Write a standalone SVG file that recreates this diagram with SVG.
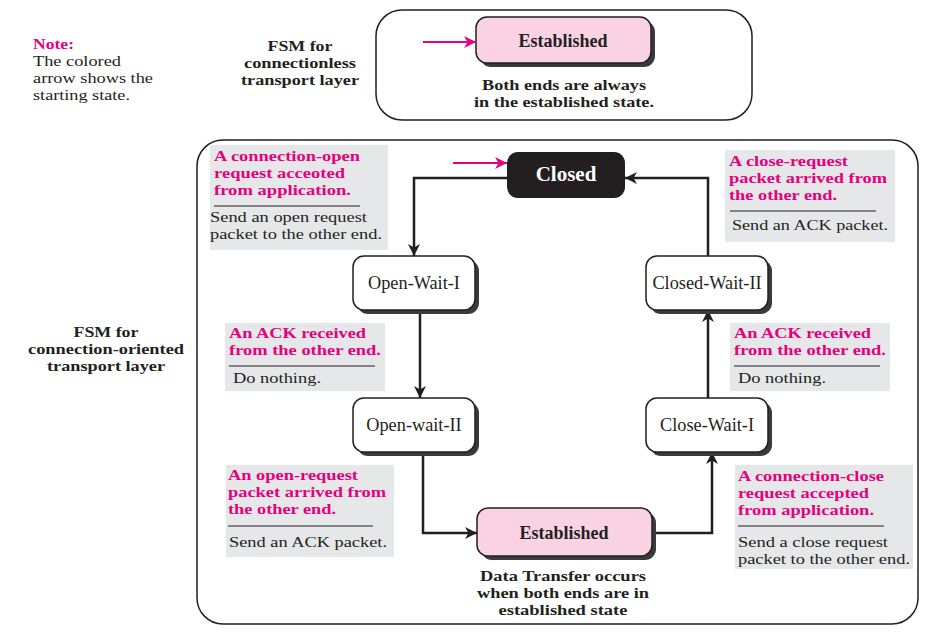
<svg xmlns="http://www.w3.org/2000/svg" width="932" height="640" viewBox="0 0 932 640">
<defs>
<marker id="ah" markerUnits="userSpaceOnUse" markerWidth="13" markerHeight="12" refX="12" refY="6" orient="auto">
<path d="M0,0 L12,6 L0,12 L3.5,6 z" fill="#231f20"/>
</marker>
<marker id="ahm" markerUnits="userSpaceOnUse" markerWidth="13" markerHeight="12" refX="12" refY="6" orient="auto">
<path d="M0,0 L12,6 L0,12 L3.5,6 z" fill="#e6007e"/>
</marker>
</defs>
<style>
text{font-family:"Liberation Serif","Times New Roman",serif;fill:#231f20}
.b{font-weight:bold}
.m{fill:#e6007e;font-weight:bold;font-size:15px}
.r{font-size:15px}
.t{font-weight:bold;font-size:15px;text-anchor:middle}
.frame{fill:#fff;stroke:#231f20;stroke-width:1.5}
.gray{fill:#e6e7e8}
.sep{stroke:#231f20;stroke-width:1.2}
.shadow{fill:#3a3a3a}
.node{fill:#fff;stroke:#231f20;stroke-width:1.5}
.pink{fill:#f9d3e4;stroke:#231f20;stroke-width:1.5}
.nl{font-size:18.3px;text-anchor:middle}
.conn{fill:none;stroke:#231f20;stroke-width:2.5;marker-end:url(#ah)}
.start{fill:none;stroke:#e6007e;stroke-width:2.2;marker-end:url(#ahm)}
</style>

<!-- Note -->
<g id="note">
<text x="33" y="49" class="m" textLength="41" lengthAdjust="spacingAndGlyphs">Note:</text>
<text x="33" y="66" class="r" textLength="88" lengthAdjust="spacingAndGlyphs">The colored</text>
<text x="33" y="83" class="r" textLength="120" lengthAdjust="spacingAndGlyphs">arrow shows the</text>
<text x="33" y="100" class="r" textLength="97" lengthAdjust="spacingAndGlyphs">starting state.</text>
</g>

<!-- Titles -->
<g id="title-connectionless">
<text x="300" y="51" class="t" textLength="65" lengthAdjust="spacingAndGlyphs">FSM for</text>
<text x="300" y="68" class="t" textLength="112" lengthAdjust="spacingAndGlyphs">connectionless</text>
<text x="300" y="85" class="t" textLength="118" lengthAdjust="spacingAndGlyphs">transport layer</text>
</g>
<g id="title-connection-oriented">
<text x="106" y="337" class="t" textLength="65" lengthAdjust="spacingAndGlyphs">FSM for</text>
<text x="106" y="354" class="t" textLength="156" lengthAdjust="spacingAndGlyphs">connection-oriented</text>
<text x="106" y="371" class="t" textLength="118" lengthAdjust="spacingAndGlyphs">transport layer</text>
</g>

<!-- Frames -->
<g id="frame-connectionless">
<rect x="376" y="10" width="376" height="110" rx="26" class="frame"/>
</g>
<g id="frame-connection-oriented">
<rect x="197" y="140" width="721" height="484" rx="26" class="frame"/>
</g>

<!-- Connectionless Established -->
<g id="node-established-top">
<rect x="480" y="21" width="175" height="46" rx="11" class="shadow"/>
<rect x="476" y="17" width="175" height="46" rx="11" class="pink"/>
<text x="563" y="47" class="b" style="font-size:18px;text-anchor:middle">Established</text>
<text x="564" y="90" class="t" textLength="164" lengthAdjust="spacingAndGlyphs">Both ends are always</text>
<text x="564" y="107" class="t" textLength="180" lengthAdjust="spacingAndGlyphs">in the established state.</text>
</g>

<!-- Annotation boxes -->
<g id="label-open-request">
<rect x="210" y="145" width="178" height="105" class="gray"/>
<text x="214" y="161" class="m" textLength="146" lengthAdjust="spacingAndGlyphs">A connection-open</text>
<text x="214" y="178" class="m" textLength="131" lengthAdjust="spacingAndGlyphs">request acceoted</text>
<text x="214" y="195" class="m" textLength="137" lengthAdjust="spacingAndGlyphs">from application.</text>
<line x1="214" y1="206" x2="360" y2="206" class="sep"/>
<text x="210" y="222" class="r" textLength="157" lengthAdjust="spacingAndGlyphs">Send an open request</text>
<text x="210" y="239" class="r" textLength="172" lengthAdjust="spacingAndGlyphs">packet to the other end.</text>
</g>
<g id="label-close-request-arrived">
<rect x="725" y="150" width="170" height="92" class="gray"/>
<text x="729" y="166" class="m" textLength="119" lengthAdjust="spacingAndGlyphs">A close-request</text>
<text x="729" y="183" class="m" textLength="158" lengthAdjust="spacingAndGlyphs">packet arrived from</text>
<text x="729" y="200" class="m" textLength="108" lengthAdjust="spacingAndGlyphs">the other end.</text>
<line x1="730" y1="211" x2="876" y2="211" class="sep"/>
<text x="732" y="230" class="r" textLength="156" lengthAdjust="spacingAndGlyphs">Send an ACK packet.</text>
</g>
<g id="label-ack-left">
<rect x="225" y="323" width="160" height="68" class="gray"/>
<text x="229" y="338" class="m" textLength="137" lengthAdjust="spacingAndGlyphs">An ACK received</text>
<text x="229" y="355" class="m" textLength="152" lengthAdjust="spacingAndGlyphs">from the other end.</text>
<line x1="229" y1="366" x2="375" y2="366" class="sep"/>
<text x="233" y="383" class="r" textLength="88" lengthAdjust="spacingAndGlyphs">Do nothing.</text>
</g>
<g id="label-ack-right">
<rect x="730" y="323" width="160" height="68" class="gray"/>
<text x="734" y="338" class="m" textLength="137" lengthAdjust="spacingAndGlyphs">An ACK received</text>
<text x="734" y="355" class="m" textLength="152" lengthAdjust="spacingAndGlyphs">from the other end.</text>
<line x1="734" y1="366" x2="880" y2="366" class="sep"/>
<text x="738" y="383" class="r" textLength="88" lengthAdjust="spacingAndGlyphs">Do nothing.</text>
</g>
<g id="label-open-request-arrived">
<rect x="226" y="465" width="168" height="92" class="gray"/>
<text x="228" y="480" class="m" textLength="130" lengthAdjust="spacingAndGlyphs">An open-request</text>
<text x="228" y="497" class="m" textLength="158" lengthAdjust="spacingAndGlyphs">packet arrived from</text>
<text x="228" y="514" class="m" textLength="108" lengthAdjust="spacingAndGlyphs">the other end.</text>
<line x1="228" y1="526" x2="373" y2="526" class="sep"/>
<text x="229" y="547" class="r" textLength="158" lengthAdjust="spacingAndGlyphs">Send an ACK packet.</text>
</g>
<g id="label-close-request-accepted">
<rect x="735" y="465" width="178" height="104" class="gray"/>
<text x="738" y="481" class="m" textLength="146" lengthAdjust="spacingAndGlyphs">A connection-close</text>
<text x="738" y="498" class="m" textLength="131" lengthAdjust="spacingAndGlyphs">request accepted</text>
<text x="738" y="515" class="m" textLength="136" lengthAdjust="spacingAndGlyphs">from application.</text>
<line x1="738" y1="526" x2="884" y2="526" class="sep"/>
<text x="738" y="547" class="r" textLength="150" lengthAdjust="spacingAndGlyphs">Send a close request</text>
<text x="738" y="564" class="r" textLength="172" lengthAdjust="spacingAndGlyphs">packet to the other end.</text>
</g>

<!-- Connectors -->
<g id="connectors">
<path d="M423,42 H476" class="start"/>
<path d="M453,163 H507" class="start"/>
<path d="M507,178 H414 V256" class="conn"/>
<path d="M420,310 V398" class="conn"/>
<path d="M423,452 V533 H477" class="conn"/>
<path d="M652,533 H712 V452" class="conn"/>
<path d="M708,398 V310" class="conn"/>
<path d="M708,256 V178 H625" class="conn"/>
</g>

<!-- State nodes -->
<g id="node-closed">
<rect x="507" y="152" width="118" height="46" rx="11" fill="#231f20"/>
<text x="566" y="181" class="b" style="font-size:21px;text-anchor:middle;fill:#fff">Closed</text>
</g>
<g id="node-open-wait-1">
<rect x="357" y="260" width="122" height="54" rx="11" class="shadow"/>
<rect x="353" y="256" width="122" height="54" rx="11" class="node"/>
<text x="414" y="289" class="nl">Open-Wait-I</text>
</g>
<g id="node-closed-wait-2">
<rect x="650" y="260" width="122" height="54" rx="11" class="shadow"/>
<rect x="646" y="256" width="122" height="54" rx="11" class="node"/>
<text x="707" y="289" class="nl">Closed-Wait-II</text>
</g>
<g id="node-open-wait-2">
<rect x="357" y="402" width="122" height="54" rx="11" class="shadow"/>
<rect x="353" y="398" width="122" height="54" rx="11" class="node"/>
<text x="414" y="431" class="nl">Open-wait-II</text>
</g>
<g id="node-close-wait-1">
<rect x="650" y="402" width="122" height="54" rx="11" class="shadow"/>
<rect x="646" y="398" width="122" height="54" rx="11" class="node"/>
<text x="707" y="431" class="nl">Close-Wait-I</text>
</g>
<g id="node-established">
<rect x="481" y="512" width="175" height="48" rx="11" class="shadow"/>
<rect x="477" y="508" width="175" height="48" rx="11" class="pink"/>
<text x="564" y="539" class="b" style="font-size:18px;text-anchor:middle">Established</text>
<text x="563" y="581" class="t" textLength="166" lengthAdjust="spacingAndGlyphs">Data Transfer occurs</text>
<text x="563" y="598" class="t" textLength="172" lengthAdjust="spacingAndGlyphs">when both ends are in</text>
<text x="563" y="615" class="t" textLength="129" lengthAdjust="spacingAndGlyphs">established state</text>
</g>
</svg>
